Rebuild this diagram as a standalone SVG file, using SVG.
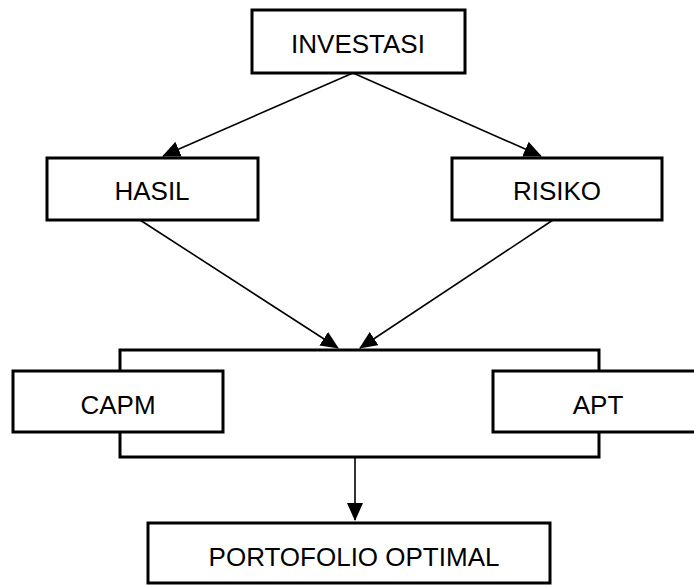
<svg xmlns="http://www.w3.org/2000/svg" width="694" height="585" viewBox="0 0 694 585">
<style>
.box{fill:#fff;stroke:#000;stroke-width:3}
.lbl{font-family:"Liberation Sans",Arial,sans-serif;font-size:26px;fill:#000;text-anchor:middle}
.con{stroke:#000;stroke-width:1.6;fill:none}
</style>
<defs>
<marker id="ah" markerUnits="userSpaceOnUse" markerWidth="18" markerHeight="16" refX="17" refY="8" orient="auto">
<path d="M0,0 L18,8 L0,16 Z" fill="#000"/>
</marker>
</defs>
<rect width="694" height="585" fill="#fff"/>
<g id="model-frame">
<rect class="box" x="120" y="350" width="479" height="107"/>
</g>
<g id="connectors">
<line class="con" x1="353" y1="73" x2="163" y2="156" marker-end="url(#ah)"/>
<line class="con" x1="353" y1="73" x2="541" y2="156" marker-end="url(#ah)"/>
<line class="con" x1="140" y1="220" x2="338" y2="348" marker-end="url(#ah)"/>
<line class="con" x1="553" y1="220" x2="360" y2="348" marker-end="url(#ah)"/>
<line class="con" x1="355" y1="458" x2="355" y2="520" marker-end="url(#ah)"/>
</g>
<g id="investasi">
<rect class="box" x="252" y="10" width="213" height="63"/>
<text class="lbl" x="358" y="53">INVESTASI</text>
</g>
<g id="hasil">
<rect class="box" x="47" y="158" width="211" height="62"/>
<text class="lbl" x="152" y="200">HASIL</text>
</g>
<g id="risiko">
<rect class="box" x="452" y="158" width="210" height="62"/>
<text class="lbl" x="557" y="200">RISIKO</text>
</g>
<g id="capm">
<rect class="box" x="13" y="371" width="210" height="61"/>
<text class="lbl" x="118" y="414">CAPM</text>
</g>
<g id="apt">
<rect class="box" x="493" y="371" width="212" height="61"/>
<text class="lbl" x="598" y="414">APT</text>
</g>
<g id="portofolio">
<rect class="box" x="148" y="523" width="402" height="60"/>
<text class="lbl" x="354" y="566">PORTOFOLIO OPTIMAL</text>
</g>
</svg>
